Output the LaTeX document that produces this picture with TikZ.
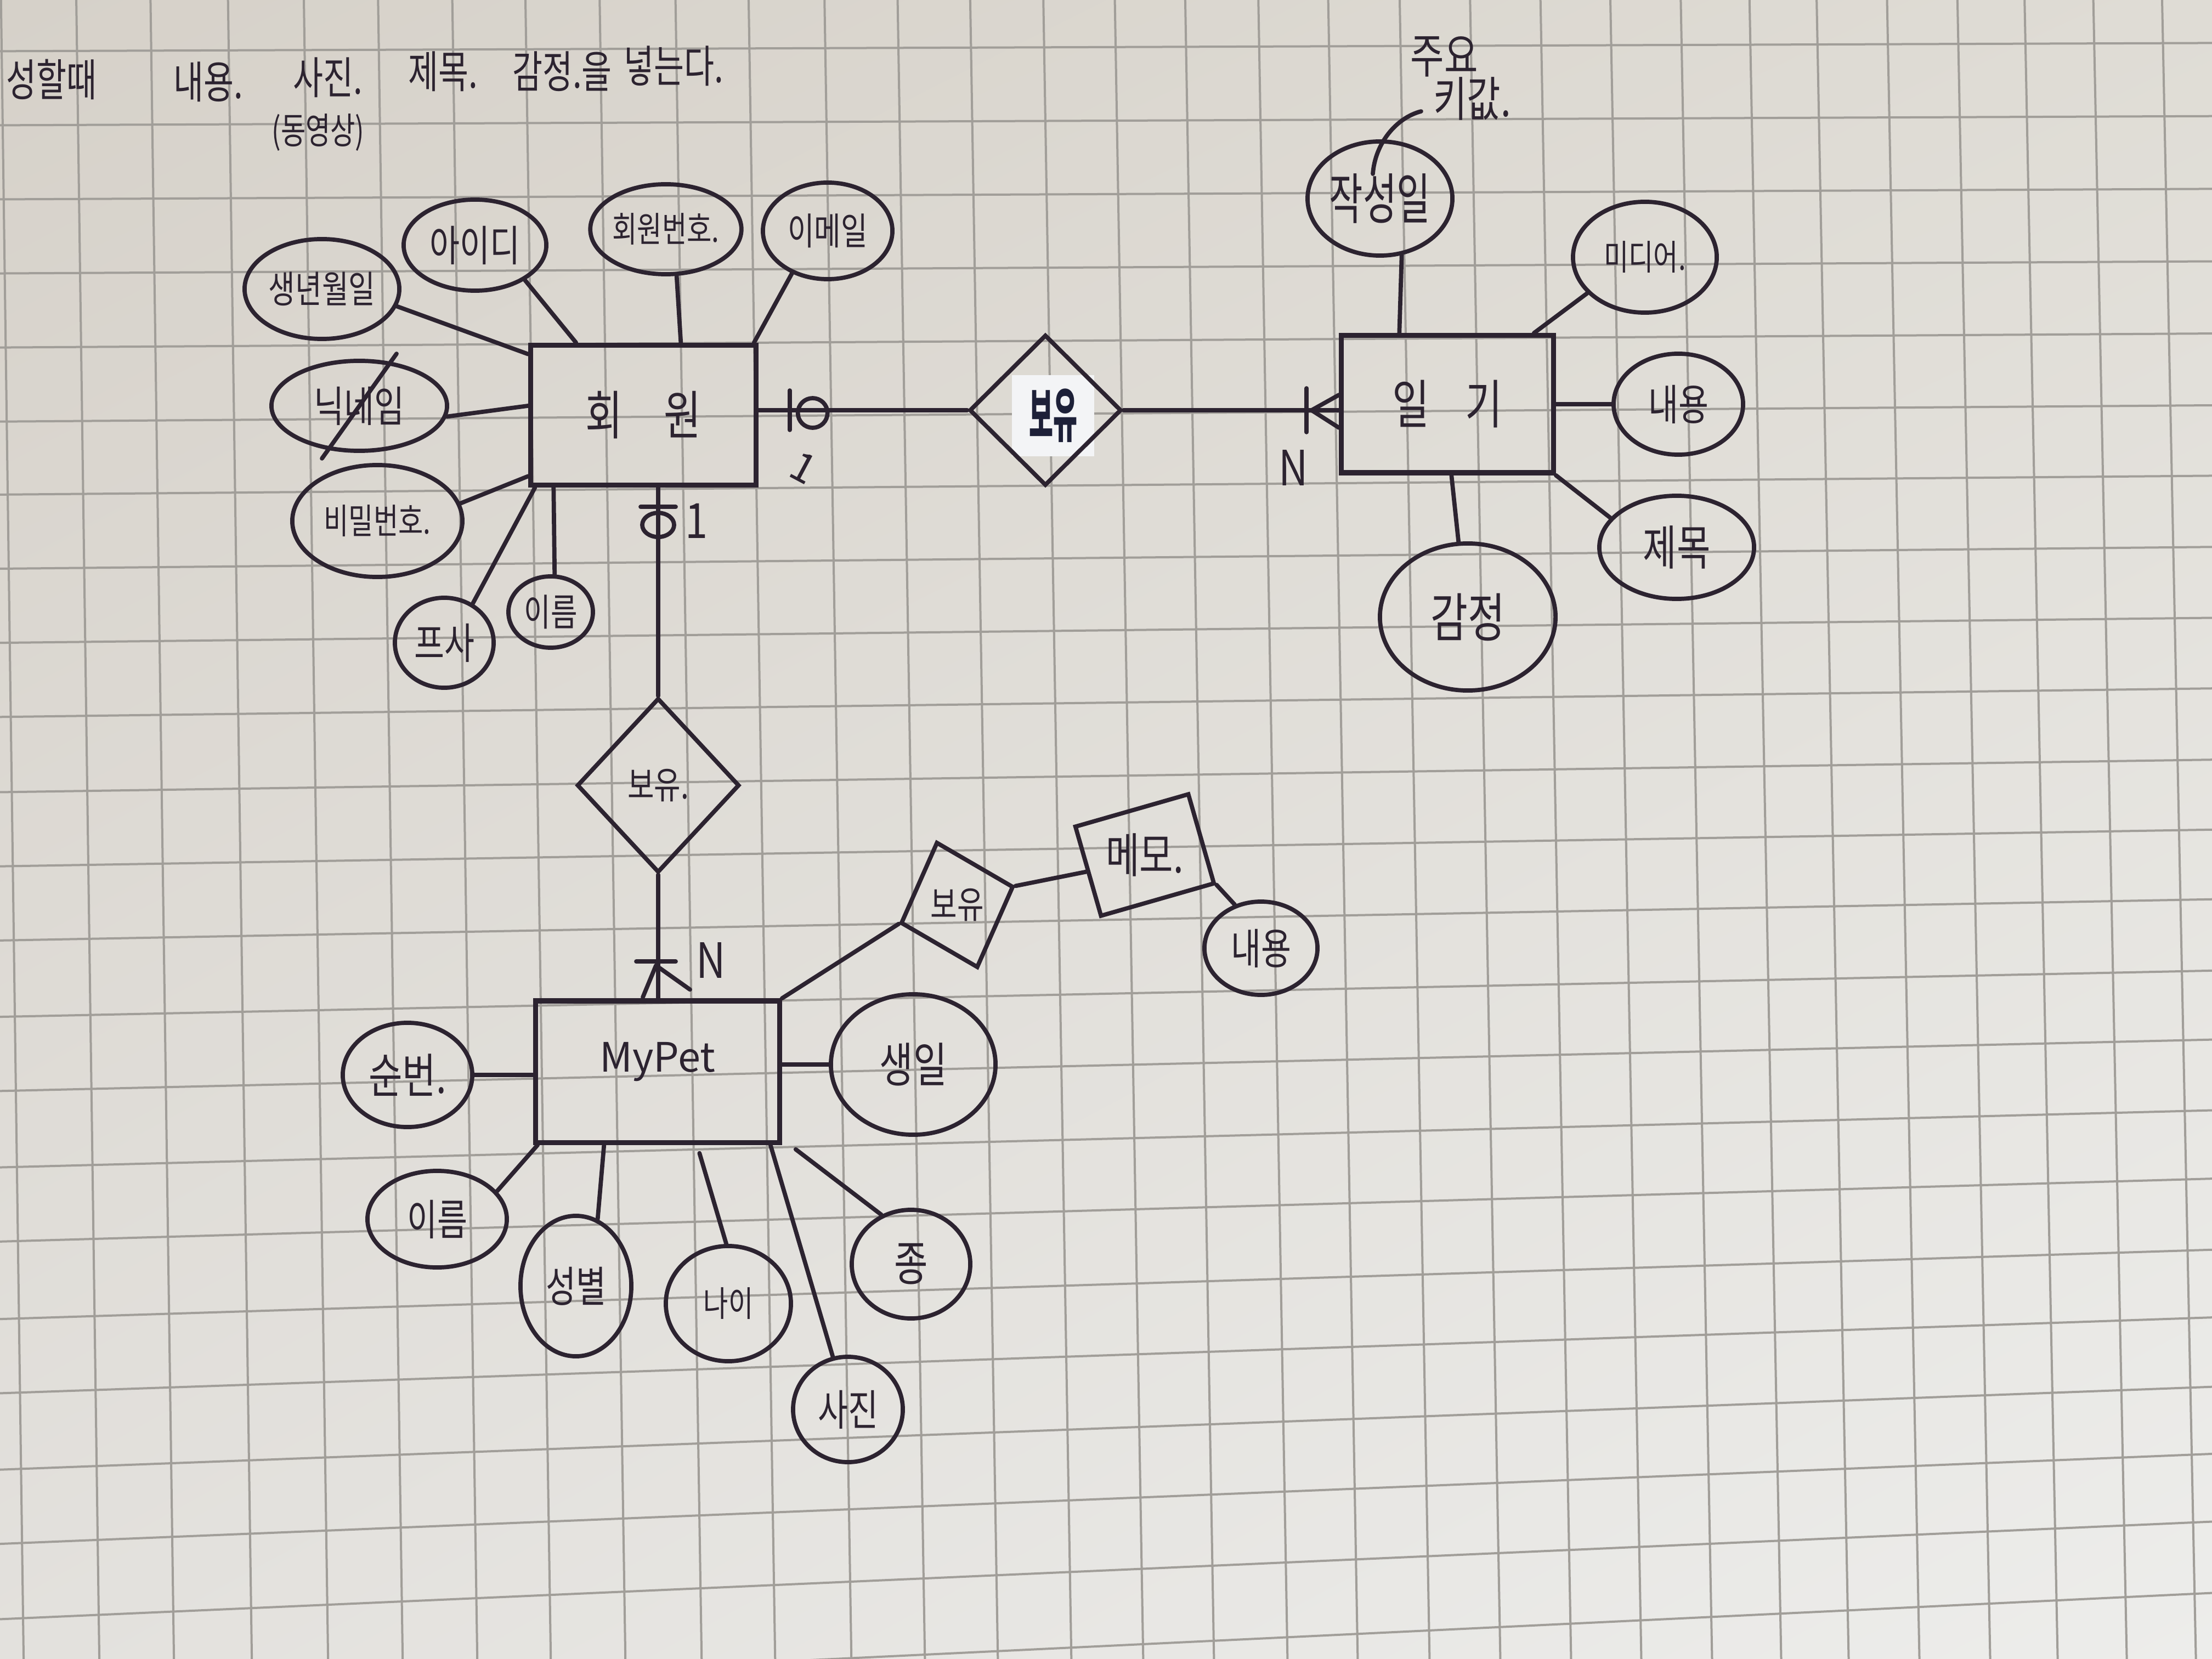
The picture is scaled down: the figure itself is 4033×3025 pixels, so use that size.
\documentclass[tikz,border=0pt]{standalone}
\usepackage{fontspec}
\usepackage{graphicx}
\usetikzlibrary{shapes.geometric,calc,shadings}
\newfontfamily\krfont{Noto Sans CJK KR}

\definecolor{ink}{HTML}{2C2330}
\definecolor{tape}{HTML}{F3F4F6}
\definecolor{tapeink}{HTML}{1D2038}
\definecolor{gridline}{HTML}{A19E99}
\definecolor{paperUL}{HTML}{D6D1C9}
\definecolor{paperUR}{HTML}{DFDCD5}
\definecolor{paperLL}{HTML}{E3E1DD}
\definecolor{paperLR}{HTML}{EDEDEB}

% handwriting is taller than the font's square glyphs
\newcommand{\tall}[2][1.3]{\scalebox{1}[#1]{#2}}

\tikzset{
  fsXS/.style={font=\krfont\fontsize{14}{16}\selectfont},
  fsS/.style={font=\krfont\fontsize{15}{17}\selectfont},
  fsM/.style={font=\krfont\fontsize{17}{19}\selectfont},
  fsL/.style={font=\krfont\fontsize{19}{21}\selectfont},
  fsXL/.style={font=\krfont\fontsize{21}{23}\selectfont},
  attr/.style={ellipse, draw=ink, line width=2.2pt, inner sep=0pt, text=ink, fsM},
  entity/.style={rectangle, draw=ink, line width=2.6pt, inner sep=0pt, text=ink, fsXL},
  rel/.style={diamond, draw=ink, line width=2.2pt, inner sep=0pt, text=ink, fsS},
  link/.style={draw=ink, line width=2.2pt, line cap=round, line join=round},
  handtext/.style={text=ink, inner sep=0pt, fsM},
  gridrule/.style={draw=gridline, line width=0.04cm},
}

\begin{document}
\begin{tikzpicture}[x=0.01cm, y=-0.01cm]
\useasboundingbox (0,0) rectangle (4033,3025);

% ---- grid paper ----
\shade[upper left=paperUL, upper right=paperUR, lower left=paperLL, lower right=paperLR]
  (0,0) rectangle (4033,3025);
\begin{scope}
  \clip (0,0) rectangle (4033,3025);
  \foreach \bx in {42,180,316,458,597,733,869,1003,1139,1278,1412,1551,1685,1818,1952,2083,2212,2346,2474,2605,2734,2863,2991,3120,3246,3369,3498,3627,3750,3876,4002}{
    \pgfmathsetmacro{\gdx}{40+0.005*\bx}
    \draw[gridrule] ({\bx-\gdx},0) -- ({\bx+0.027*\gdx},3025);
  }
  \foreach \gy in {93,228,363,498,633,768,901,1036,1171,1306,1443,1578,1713,1852,1987,2126,2261,2402,2537,2676,2811,2948,3093}{
    \pgfmathsetmacro{\slp}{0.0035+0.002*\gy/1000+0.004*(\gy/1000)^2}
    \pgfmathsetmacro{\yA}{\gy+100*\slp}
    \pgfmathsetmacro{\yB}{\yA-4033*\slp}
    \draw[gridrule] (0,\yA) -- (4033,\yB);
  }
\end{scope}

% ---- note line at the top ----
\node[handtext] (h1) at (94,145) {\tall[1.35]{성할때}};
\node[handtext] (h2) at (380,149) {\tall[1.35]{내용.}};
\node[handtext] (h3) at (598,141) {\tall[1.35]{사진.}};
\node[handtext, fsXS] (h4) at (580,242) {\tall[1.35]{(동영상)}};
\node[handtext] (h5) at (808,130) {\tall[1.35]{제목.}};
\node[handtext] (h6) at (1025,130) {\tall[1.35]{감정.을}};
\node[handtext] (h7) at (1228,120) {\tall[1.35]{넣는다.}};

% ---- entities ----
\node[entity, minimum width=4.10cm, minimum height=2.55cm] (hw) at (1173,757) {\tall{회\hspace{0.75cm}원}};
\node[entity, minimum width=3.86cm, minimum height=2.50cm] (ilgi) at (2639,737) {\tall{일\hspace{0.65cm}기}\hspace{0.6cm}};
\node[entity, minimum width=4.44cm, minimum height=2.58cm] (mp) at (1199,1954) {\raisebox{0.54cm}{MyPet}};
\node[entity, rotate=16, line width=2.2pt, fsL, minimum width=2.14cm, minimum height=1.69cm] (memo) at (2087,1559) {\rotatebox{-16}{\tall{메모.}}};

% ---- relationships ----
\node[fill=tape, inner sep=0pt, minimum width=1.49cm, minimum height=1.48cm, text=tapeink,
      font=\krfont\bfseries\fontsize{17}{19}\selectfont] (tape) at (1920,758) {\scalebox{0.8}[1.8]{보유}};
\node[rel, minimum width=2.77cm, minimum height=2.75cm] (r_diary) at (1906,748) {};
\node[rel, minimum width=2.96cm, minimum height=3.18cm] (r_pet) at (1200,1432) {\tall{보유.}};
\node[rel, rotate=18, minimum width=2.16cm, minimum height=2.41cm] (r_memo) at (1745,1650) {\rotatebox{-18}{\tall{보유}}};

% ---- attributes of 회원 ----
\node[attr, fsS, minimum width=2.82cm, minimum height=1.82cm] (a_birth) at (587,527) {\tall{생년월일}};
\node[attr, minimum width=2.60cm, minimum height=1.66cm] (a_id) at (866,447) {\tall{아이디}};
\node[attr, fsXS, minimum width=2.70cm, minimum height=1.64cm] (a_no) at (1214,418) {\tall{회원번호.}};
\node[attr, fsS, minimum width=2.36cm, minimum height=1.76cm] (a_mail) at (1509,421) {\tall{이메일}};
\node[attr, minimum width=3.20cm, minimum height=1.64cm] (a_nick) at (655,740) {\tall{닉네임}};
\node[attr, fsXS, minimum width=3.10cm, minimum height=2.04cm] (a_pw) at (688,950) {\tall{비밀번호.}};
\node[attr, minimum width=1.80cm, minimum height=1.64cm] (a_pic) at (810,1172) {\tall{프사}};
\node[attr, fsS, minimum width=1.54cm, minimum height=1.30cm] (a_name) at (1004,1116) {\tall{이름}};

% ---- attributes of 일기 ----
\node[attr, fsL, minimum width=2.64cm, minimum height=2.08cm] (d_date) at (2516,362) {\tall[1.5]{작성일}};
\node[attr, fsXS, minimum width=2.62cm, minimum height=2.02cm] (d_media) at (2999,469) {\tall{미디어.}};
\node[attr, minimum width=2.36cm, minimum height=1.84cm] (d_body) at (3060,737) {\tall{내용}};
\node[attr, fsL, minimum width=2.82cm, minimum height=1.88cm] (d_title) at (3057,998) {\tall{제목}};
\node[attr, fsXL, minimum width=3.20cm, minimum height=2.68cm] (d_mood) at (2676,1125) {\tall{감정}};

% ---- attributes of MyPet ----
\node[attr, fsL, minimum width=2.36cm, minimum height=1.90cm] (p_no) at (743,1960) {\tall{순번.}};
\node[attr, fsL, minimum width=3.00cm, minimum height=2.56cm] (p_bday) at (1665,1941) {\tall{생일}};
\node[attr, minimum width=2.54cm, minimum height=1.76cm] (p_name) at (797,2223) {\tall{이름}};
\node[attr, minimum width=2.02cm, minimum height=2.56cm] (p_sex) at (1050,2345) {\tall{성별}};
\node[attr, fsXS, minimum width=2.28cm, minimum height=2.10cm] (p_age) at (1328,2377) {\tall{나이}};
\node[attr, minimum width=2.00cm, minimum height=1.92cm] (p_photo) at (1546,2570) {\tall{사진}};
\node[attr, fsL, minimum width=2.16cm, minimum height=1.98cm] (p_kind) at (1661,2305) {\tall{종}};

% ---- attribute of 메모 ----
\node[attr, minimum width=2.06cm, minimum height=1.70cm] (m_body) at (2299,1729) {\tall{내용}};

% ---- key remark ----
\node[handtext, fsL] (key1) at (2633,103) {\tall{주요}};
\node[handtext, fsL] (key2) at (2684,180) {\tall{키값.}};
\draw[link] ($(d_date.center)+(-13,-45)$) .. controls ($(d_date.center)+(-9,-100)$) and ($(d_date.center)+(29,-147)$) .. ($(d_date.center)+(75,-159)$);

% ---- attribute links ----
\draw[link] (a_birth.347) -- ($(hw.north west)+(0,21)$);
\draw[link] (a_id.325) -- ($(hw.north west)+(87,0)$);
\draw[link] (a_no.283) -- ($(hw.north west)+(278,0)$);
\draw[link] (a_mail.230) -- ($(hw.north east)+(-8,0)$);
\draw[link] (a_nick.353) -- ($(hw.north west)+(0,115)$);
\draw[link] ($(a_nick.center)+(68,-95)$) -- ($(a_nick.center)+(-68,96)$);
\draw[link] (a_pw.12) -- ($(hw.south west)+(0,-21)$);
\draw[link] (a_pic.54) -- ($(hw.south west)+(12,0)$);
\draw[link] (a_name.84) -- ($(hw.south west)+(46,0)$);

\draw[link] (d_date.291) -- ($(ilgi.north west)+(110,0)$);
\draw[link] (d_media.212) -- ($(ilgi.north east)+(-40,0)$);
\draw[link] (d_body.west) -- (ilgi.east |- d_body.west);
\draw[link] (d_title.156) -- (ilgi.south east);
\draw[link] (d_mood.97) -- ($(ilgi.south west)+(205,0)$);

\draw[link] (p_no.east) -- (mp.west |- p_no.east);
\draw[link] (p_bday.west) -- (mp.east |- p_bday.west);
\draw[link] (p_name.25) -- ($(mp.south west)+(8,0)$);
\draw[link] (p_sex.72) -- ($(mp.south west)+(129,0)$);
\draw[link] (p_age.92) -- ($(mp.south west)+(303,15)$);
\draw[link] (p_photo.106) -- ($(mp.south east)+(-21,0)$);
\draw[link] (p_kind.121) -- ($(mp.south east)+(25,8)$);

\draw[link] (memo.south east) -- (m_body.121);

% ---- relationship links ----
\coordinate (hwR) at (hw.east |- r_diary.west);
\coordinate (ilL) at (ilgi.west |- r_diary.east);
\coordinate (hwB) at (hw.south -| r_pet.north);
\coordinate (mpT) at (mp.north -| r_pet.south);

\draw[link] (hwR) -- (r_diary.west);
\draw[link] (r_diary.east) -- (ilL);
\draw[link] (hwB) -- (r_pet.north);
\draw[link] (r_pet.south) -- (mpT);
\draw[link] (mp.north east) -- (r_memo.west);
\draw[link] (r_memo.east) -- (memo.west);

% cardinality: 회원 side of 일기 relation (one, optional)
\draw[link] ($(hwR)+(57,-36)$) -- ++(0,72);
\draw[link] ($(hwR)+(99,5)$) circle (0.27cm);
\node[handtext, fsXL, rotate=-28] (one1) at ($(hwR)+(82,105)$) {1};
% cardinality: 일기 side (many)
\draw[link] ($(ilL)+(-59,-40)$) -- ++(0,80);
\draw[link] ($(ilL)+(0,-28)$) -- ($(ilL)+(-50,0)$) -- ($(ilL)+(0,32)$);
\node[handtext, fsXL] (n1) at ($(ilL)+(-83,105)$) {\tall[1.2]{N}};
% cardinality: 회원 side of MyPet relation
\draw[link] ($(hwB)+(-32,35)$) -- ++(64,0);
\draw[link] ($(hwB)+(0,68)$) ellipse [x radius=0.29cm, y radius=0.22cm];
\node[handtext, fsXL] (one2) at ($(hwB)+(70,61)$) {\tall[1.2]{1}};
% cardinality: MyPet side (many)
\draw[link] ($(mpT)+(-40,-67)$) -- ++(72,0);
\draw[link] ($(mpT)+(-28,-2)$) -- ($(mpT)+(-4,-60)$) -- ($(mpT)+(58,-16)$);
\node[handtext, fsXL] (n2) at ($(mpT)+(96,-69)$) {\tall[1.2]{N}};

\end{tikzpicture}
\end{document}
